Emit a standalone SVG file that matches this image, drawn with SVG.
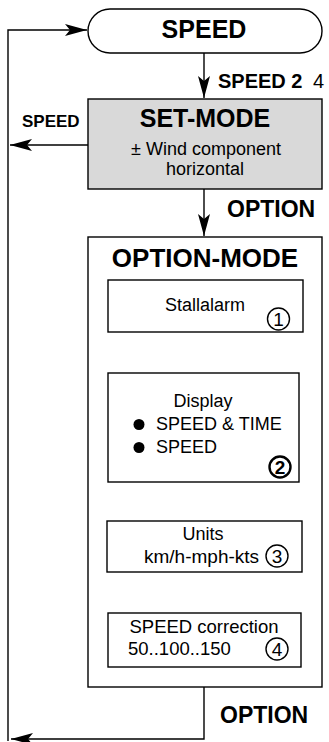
<svg xmlns="http://www.w3.org/2000/svg" width="329" height="742" viewBox="0 0 329 742">
<defs>
<marker id="ah" markerUnits="userSpaceOnUse" markerWidth="24" markerHeight="13" refX="22" refY="6" orient="auto">
<path d="M0,0 L22,6 L0,12 L5,6 z" fill="#000"/>
</marker>
<style>
.box{fill:#fff;stroke:#000;stroke-width:1.4}
.grey{fill:#d9d9d9;stroke:#000;stroke-width:1.4}
.con{fill:none;stroke:#000;stroke-width:1.4}
.ring{fill:none;stroke:#000;stroke-width:1.4}
.ringb{fill:none;stroke:#000;stroke-width:2.4}
text{font-family:"Liberation Sans",Arial,sans-serif;fill:#000}
.b{font-weight:bold}
.dig{font-size:19px;text-anchor:middle}
</style>
</defs>
<rect width="329" height="742" fill="#fff"/>
<g id="connectors">
<path class="con" d="M204,687 V739 H11" marker-end="url(#ah)"/>
<path class="con" d="M8,741 V30 H87" marker-end="url(#ah)"/>
<path class="con" d="M204,53 V98" marker-end="url(#ah)"/>
<path class="con" d="M88,145 H10" marker-end="url(#ah)"/>
<path class="con" d="M204,189 V236" marker-end="url(#ah)"/>
<path class="con" d="M204,332 V372" marker-end="url(#ah)"/>
<path class="con" d="M204,482 V520" marker-end="url(#ah)"/>
<path class="con" d="M204,572 V612" marker-end="url(#ah)"/>
<text class="b" x="218" y="88" font-size="20">SPEED 2</text>
<text x="313" y="88" font-size="20">4</text>
<text class="b" x="22" y="127" font-size="17">SPEED</text>
<text class="b" x="227" y="217" font-size="23">OPTION</text>
<text class="b" x="220" y="723" font-size="23">OPTION</text>
</g>
<g id="speed">
<rect class="box" x="88" y="9" width="234" height="44" rx="22"/>
<text class="b" x="204" y="38" font-size="25" text-anchor="middle">SPEED</text>
</g>
<g id="set-mode">
<rect class="grey" x="88" y="99" width="234" height="90"/>
<text class="b" x="205" y="127" font-size="25" text-anchor="middle">SET-MODE</text>
<text x="206" y="155" font-size="18" text-anchor="middle">± Wind component</text>
<text x="205" y="175" font-size="18" text-anchor="middle">horizontal</text>
</g>
<g id="option-mode">
<rect class="box" x="88" y="237" width="234" height="450"/>
<text class="b" x="205" y="267" font-size="26" text-anchor="middle">OPTION-MODE</text>
</g>
<g id="stallalarm">
<rect class="box" x="108" y="280" width="195" height="52"/>
<text x="205" y="311" font-size="18" text-anchor="middle">Stallalarm</text>
<circle class="ring" cx="278.5" cy="319" r="11"/>
<text class="dig" x="278.5" y="326">1</text>
</g>
<g id="display">
<rect class="box" x="108" y="373" width="191" height="109"/>
<text x="203" y="407" font-size="18" text-anchor="middle">Display</text>
<circle cx="139" cy="424.5" r="5.5"/>
<text x="156" y="430" font-size="18">SPEED &amp; TIME</text>
<circle cx="139" cy="447.5" r="5.5"/>
<text x="156" y="453" font-size="18">SPEED</text>
<circle class="ringb" cx="280" cy="467" r="10.5"/>
<text class="dig b" x="280" y="474">2</text>
</g>
<g id="units">
<rect class="box" x="107" y="521" width="195" height="51"/>
<text x="203" y="540" font-size="18" text-anchor="middle">Units</text>
<text x="144" y="563" font-size="19">km/h-mph-kts</text>
<circle class="ring" cx="277" cy="556" r="11"/>
<text class="dig" x="277" y="563">3</text>
</g>
<g id="speed-correction">
<rect class="box" x="108" y="613" width="193" height="54"/>
<text x="204" y="633" font-size="18.5" text-anchor="middle">SPEED correction</text>
<text x="128" y="655" font-size="18.5">50..100..150</text>
<circle class="ring" cx="277" cy="649" r="11"/>
<text class="dig" x="277" y="656">4</text>
</g>
</svg>
